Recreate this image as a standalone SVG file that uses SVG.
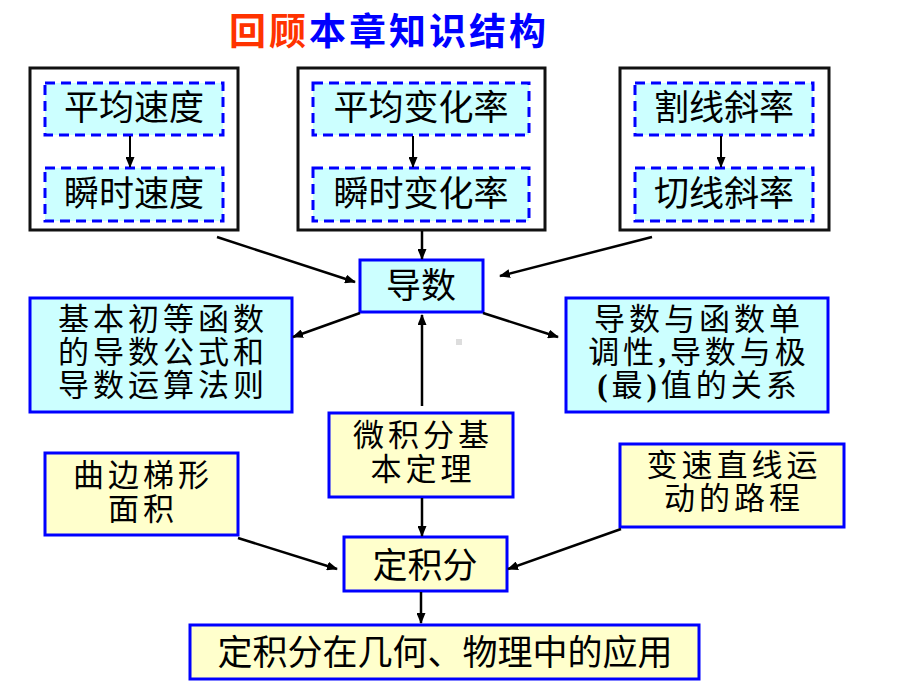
<svg xmlns="http://www.w3.org/2000/svg" width="920" height="690" viewBox="0 0 920 690">
  <defs>
    <marker id="ah" markerUnits="userSpaceOnUse" markerWidth="11" markerHeight="9" refX="10" refY="4.5" orient="auto">
      <path d="M0,0 L11,4.5 L0,9 z" fill="#000"/>
    </marker>
    <style>
      .t { font-family: "Noto Sans CJK SC", "Noto Sans CJK JP", sans-serif; font-size: 35px; fill: #000; text-anchor: middle; }
      .m { font-family: "Noto Sans CJK SC", "Noto Sans CJK JP", sans-serif; font-size: 31px; letter-spacing: 4px; fill: #000; text-anchor: middle; }
      .mix { font-family: "Liberation Serif", "Noto Sans CJK SC", serif; }
      .outer { fill: #fff; stroke: #111; stroke-width: 3; }
      .dash { fill: #ccffff; stroke: #0000ff; stroke-width: 3; stroke-dasharray: 10 6; }
      .cyan { fill: #ccffff; stroke: #0000ff; stroke-width: 3; }
      .yel { fill: #ffffcc; stroke: #0000ff; stroke-width: 3; }
      .c { stroke: #000; stroke-width: 2.5; fill: none; marker-end: url(#ah); }
      .ci { stroke: #000; stroke-width: 2; fill: none; marker-end: url(#ah); }
    </style>
  </defs>
  <rect width="920" height="690" fill="#fff"/>

  <g id="title">
    <text x="229" y="45" style="font-family: 'Noto Sans CJK SC', sans-serif; font-size: 37px; letter-spacing: 3px; font-weight: bold;"><tspan fill="#ff3300">回顾</tspan><tspan fill="#0000ff">本章知识结构</tspan></text>
  </g>

  <g id="group-speed">
    <rect class="outer" x="30" y="68" width="208" height="162"/>
    <g id="avg-speed"><rect class="dash" x="45" y="83" width="178" height="52"/><text class="t" x="134" y="120">平均速度</text></g>
    <g id="inst-speed"><rect class="dash" x="45" y="168" width="178" height="53"/><text class="t" x="134" y="206">瞬时速度</text></g>
  </g>
  <g id="group-rate">
    <rect class="outer" x="298" y="68" width="247" height="162"/>
    <g id="avg-rate"><rect class="dash" x="313" y="83" width="216" height="52"/><text class="t" x="421" y="120">平均变化率</text></g>
    <g id="inst-rate"><rect class="dash" x="313" y="168" width="216" height="53"/><text class="t" x="421" y="206">瞬时变化率</text></g>
  </g>
  <g id="group-slope">
    <rect class="outer" x="620" y="68" width="209" height="162"/>
    <g id="secant"><rect class="dash" x="635" y="83" width="178" height="52"/><text class="t" x="724" y="120">割线斜率</text></g>
    <g id="tangent"><rect class="dash" x="635" y="168" width="178" height="53"/><text class="t" x="724" y="206">切线斜率</text></g>
  </g>

  <g id="derivative"><rect class="cyan" x="360" y="260" width="123" height="52"/><text class="t" x="421" y="298">导数</text></g>

  <g id="formulas">
    <rect class="cyan" x="30" y="298" width="262" height="114"/>
    <text class="m" x="163" y="330">基本初等函数</text>
    <text class="m" x="163" y="363">的导数公式和</text>
    <text class="m" x="163" y="396">导数运算法则</text>
  </g>
  <g id="monotonic">
    <rect class="cyan" x="566" y="298" width="262" height="114"/>
    <text class="m" x="699" y="330">导数与函数单</text>
    <text class="m mix" x="699" y="363">调性<tspan font-weight="bold">,</tspan>导数与极</text>
    <text class="m mix" x="699" y="396"><tspan font-weight="bold">(</tspan>最<tspan font-weight="bold">)</tspan>值的关系</text>
  </g>

  <g id="ftc">
    <rect class="yel" x="329" y="413" width="184" height="84"/>
    <text class="m" x="423" y="446">微积分基</text>
    <text class="m" x="423" y="480">本定理</text>
  </g>
  <g id="area">
    <rect class="yel" x="45" y="453" width="193" height="82"/>
    <text class="m" x="143" y="486">曲边梯形</text>
    <text class="m" x="143" y="520">面积</text>
  </g>
  <g id="distance">
    <rect class="yel" x="620" y="444" width="224" height="83"/>
    <text class="m" x="734" y="476">变速直线运</text>
    <text class="m" x="734" y="509">动的路程</text>
  </g>
  <g id="integral"><rect class="yel" x="344" y="537" width="163" height="54"/><text class="t" x="425" y="578">定积分</text></g>
  <g id="application"><rect class="yel" x="190" y="625" width="509" height="54"/><text class="t" x="445" y="665">定积分在几何、物理中的应用</text></g>

  <rect x="456" y="339" width="6" height="6" fill="#dddddd"/>

  <g id="connectors">
    <line class="ci" x1="130" y1="136" x2="130" y2="167"/>
    <line class="ci" x1="413" y1="136" x2="413" y2="167"/>
    <line class="ci" x1="721" y1="136" x2="721" y2="167"/>
    <line class="c" x1="217" y1="237" x2="355" y2="282"/>
    <line class="c" x1="422" y1="231" x2="422" y2="259"/>
    <line class="c" x1="652" y1="237" x2="500" y2="276"/>
    <line class="c" x1="360" y1="313" x2="293" y2="337"/>
    <line class="c" x1="483" y1="313" x2="558" y2="337"/>
    <line class="c" x1="422" y1="406" x2="422" y2="315"/>
    <line class="c" x1="422" y1="498" x2="422" y2="536"/>
    <line class="c" x1="238" y1="538" x2="337" y2="569"/>
    <line class="c" x1="621" y1="529" x2="508" y2="569"/>
    <line class="c" x1="421" y1="592" x2="421" y2="623"/>
  </g>
</svg>
